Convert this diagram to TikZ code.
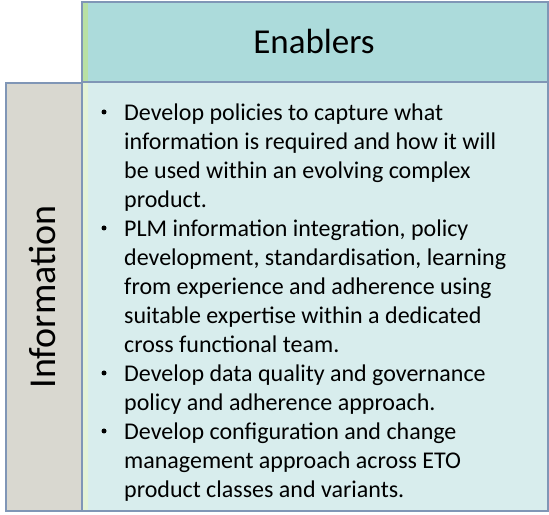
\documentclass[tikz,border=0pt]{standalone}
\usepackage{fontspec}
\setmainfont{Carlito}
\definecolor{hdrfill}{RGB}{172,219,219}
\definecolor{bodyfill}{RGB}{216,237,237}
\definecolor{leftfill}{RGB}{217,216,208}
\definecolor{edge}{RGB}{128,150,182}
\definecolor{stripeA}{RGB}{184,224,164}
\definecolor{stripeB}{RGB}{228,243,214}
\tikzset{
  panel/.style={draw=edge, line width=1.5bp},
  itemtext/.style={anchor=north west, inner sep=0pt, align=left,
    font=\fontsize{24bp}{29bp}\selectfont},
  bulletmark/.style={circle, fill=black, inner sep=0pt, minimum size=5bp},
  heading/.style={inner sep=0pt, font=\fontsize{35bp}{40bp}\selectfont}
}
\begin{document}
\begin{tikzpicture}[x=1bp,y=1bp]
\useasboundingbox (0,0) rectangle (549,515);
% fills
\fill[hdrfill] (81,432) rectangle (547,512);
\fill[bodyfill] (81,3) rectangle (547,432);
\fill[leftfill] (5,3) rectangle (81,431);
\fill[stripeA] (82,432) rectangle (88,512);
\fill[stripeB] (82,3) rectangle (88,432);
% outlines
\node[panel, minimum width=466bp, minimum height=80bp, anchor=south west, inner sep=0pt] (hdr) at (81,432) {};
\node[panel, minimum width=466bp, minimum height=429bp, anchor=south west, inner sep=0pt] (body) at (81,3) {};
\node[panel, minimum width=76bp, minimum height=428bp, anchor=south west, inner sep=0pt] (left) at (5,3) {};
% headings
\node[heading] (enablers) at (314,474) {Enablers};
\node[heading, rotate=90, font=\fontsize{38bp}{42bp}\selectfont] (info) at (43,218) {Information};
% items (baselines at 515-(120+29k))
\node[bulletmark] (b1) at (104,403) {};
\node[itemtext] (i1) at (124,415) {\rule{0pt}{20bp}Develop policies to capture what\\information is required and how it will\\be used within an evolving complex\\product.};
\node[bulletmark] (b2) at (104,287) {};
\node[itemtext] (i2) at (124,299) {\rule{0pt}{20bp}PLM information integration, policy\\development, standardisation, learning\\from experience and adherence using\\suitable expertise within a dedicated\\cross functional team.};
\node[bulletmark] (b3) at (104,142) {};
\node[itemtext] (i3) at (124,154) {\rule{0pt}{20bp}Develop data quality and governance\\policy and adherence approach.};
\node[bulletmark] (b4) at (104,84) {};
\node[itemtext] (i4) at (124,96) {\rule{0pt}{20bp}Develop configuration and change\\management approach across ETO\\product classes and variants.};
\end{tikzpicture}
\end{document}
